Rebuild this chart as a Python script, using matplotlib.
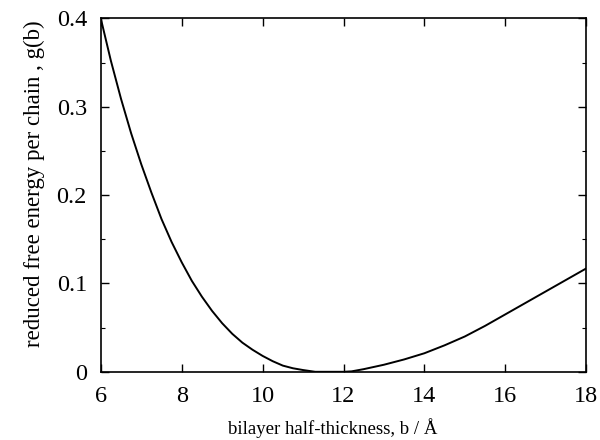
import matplotlib
matplotlib.use('Agg')
import matplotlib.pyplot as plt
from matplotlib.ticker import MultipleLocator

plt.rcParams['font.family'] = ['Liberation Serif', 'DejaVu Serif']

# values
b = [6.0, 6.25, 6.5, 6.75, 7.0, 7.25, 7.5, 7.75, 8.0, 8.25, 8.5, 8.75, 9.0, 9.25,
     9.5, 9.75, 10.0, 10.25, 10.5, 10.75, 11.0, 11.3, 12.0, 12.2, 12.5, 13.0, 13.5,
     14.0, 14.5, 15.0, 15.5, 16.0, 16.5, 17.0, 17.5, 18.0]
g = [0.400, 0.352, 0.309, 0.270, 0.235, 0.203, 0.173, 0.147, 0.124, 0.103, 0.085, 0.069,
     0.055, 0.043, 0.033, 0.025, 0.018, 0.012, 0.007, 0.004, 0.002, 0.0, 0.0, 0.0005,
     0.003, 0.008, 0.014, 0.021, 0.030, 0.040, 0.052, 0.065, 0.078, 0.091, 0.104, 0.117]

x_ticks = [6, 8, 10, 12, 14, 16, 18]
y_ticks = [0, 0.1, 0.2, 0.3, 0.4]
y_labels = ['0', '0.1', '0.2', '0.3', '0.4']

fig = plt.figure(figsize=(6, 4.4), dpi=100)
ax = fig.add_axes([0.168, 0.155, 0.809, 0.803])

ax.plot(b, g, color='black', linewidth=1.4, solid_joinstyle='round')

ax.set_xlim(6, 18)
ax.set_ylim(0, 0.4)
ax.set_xticks(x_ticks)
ax.set_yticks(y_ticks)
ax.set_yticklabels(y_labels)
ax.yaxis.set_minor_locator(MultipleLocator(0.05))

ax.tick_params(axis='both', which='major', direction='in', length=6, width=1,
               top=True, right=True, labelsize=17.5, pad=10)
ax.tick_params(axis='both', which='minor', direction='in', length=3, width=0.8,
               top=True, right=True)
for s in ax.spines.values():
    s.set_linewidth(1.2)

ax.set_xlabel('bilayer half-thickness, b / Å', fontsize=13.5)
ax.xaxis.set_label_coords(0.478, -0.13)
ax.set_ylabel('reduced free energy per chain , g(b)', fontsize=16.5)
ax.yaxis.set_label_coords(-0.115, 0.533)

fig.savefig('out.png', dpi=100)
